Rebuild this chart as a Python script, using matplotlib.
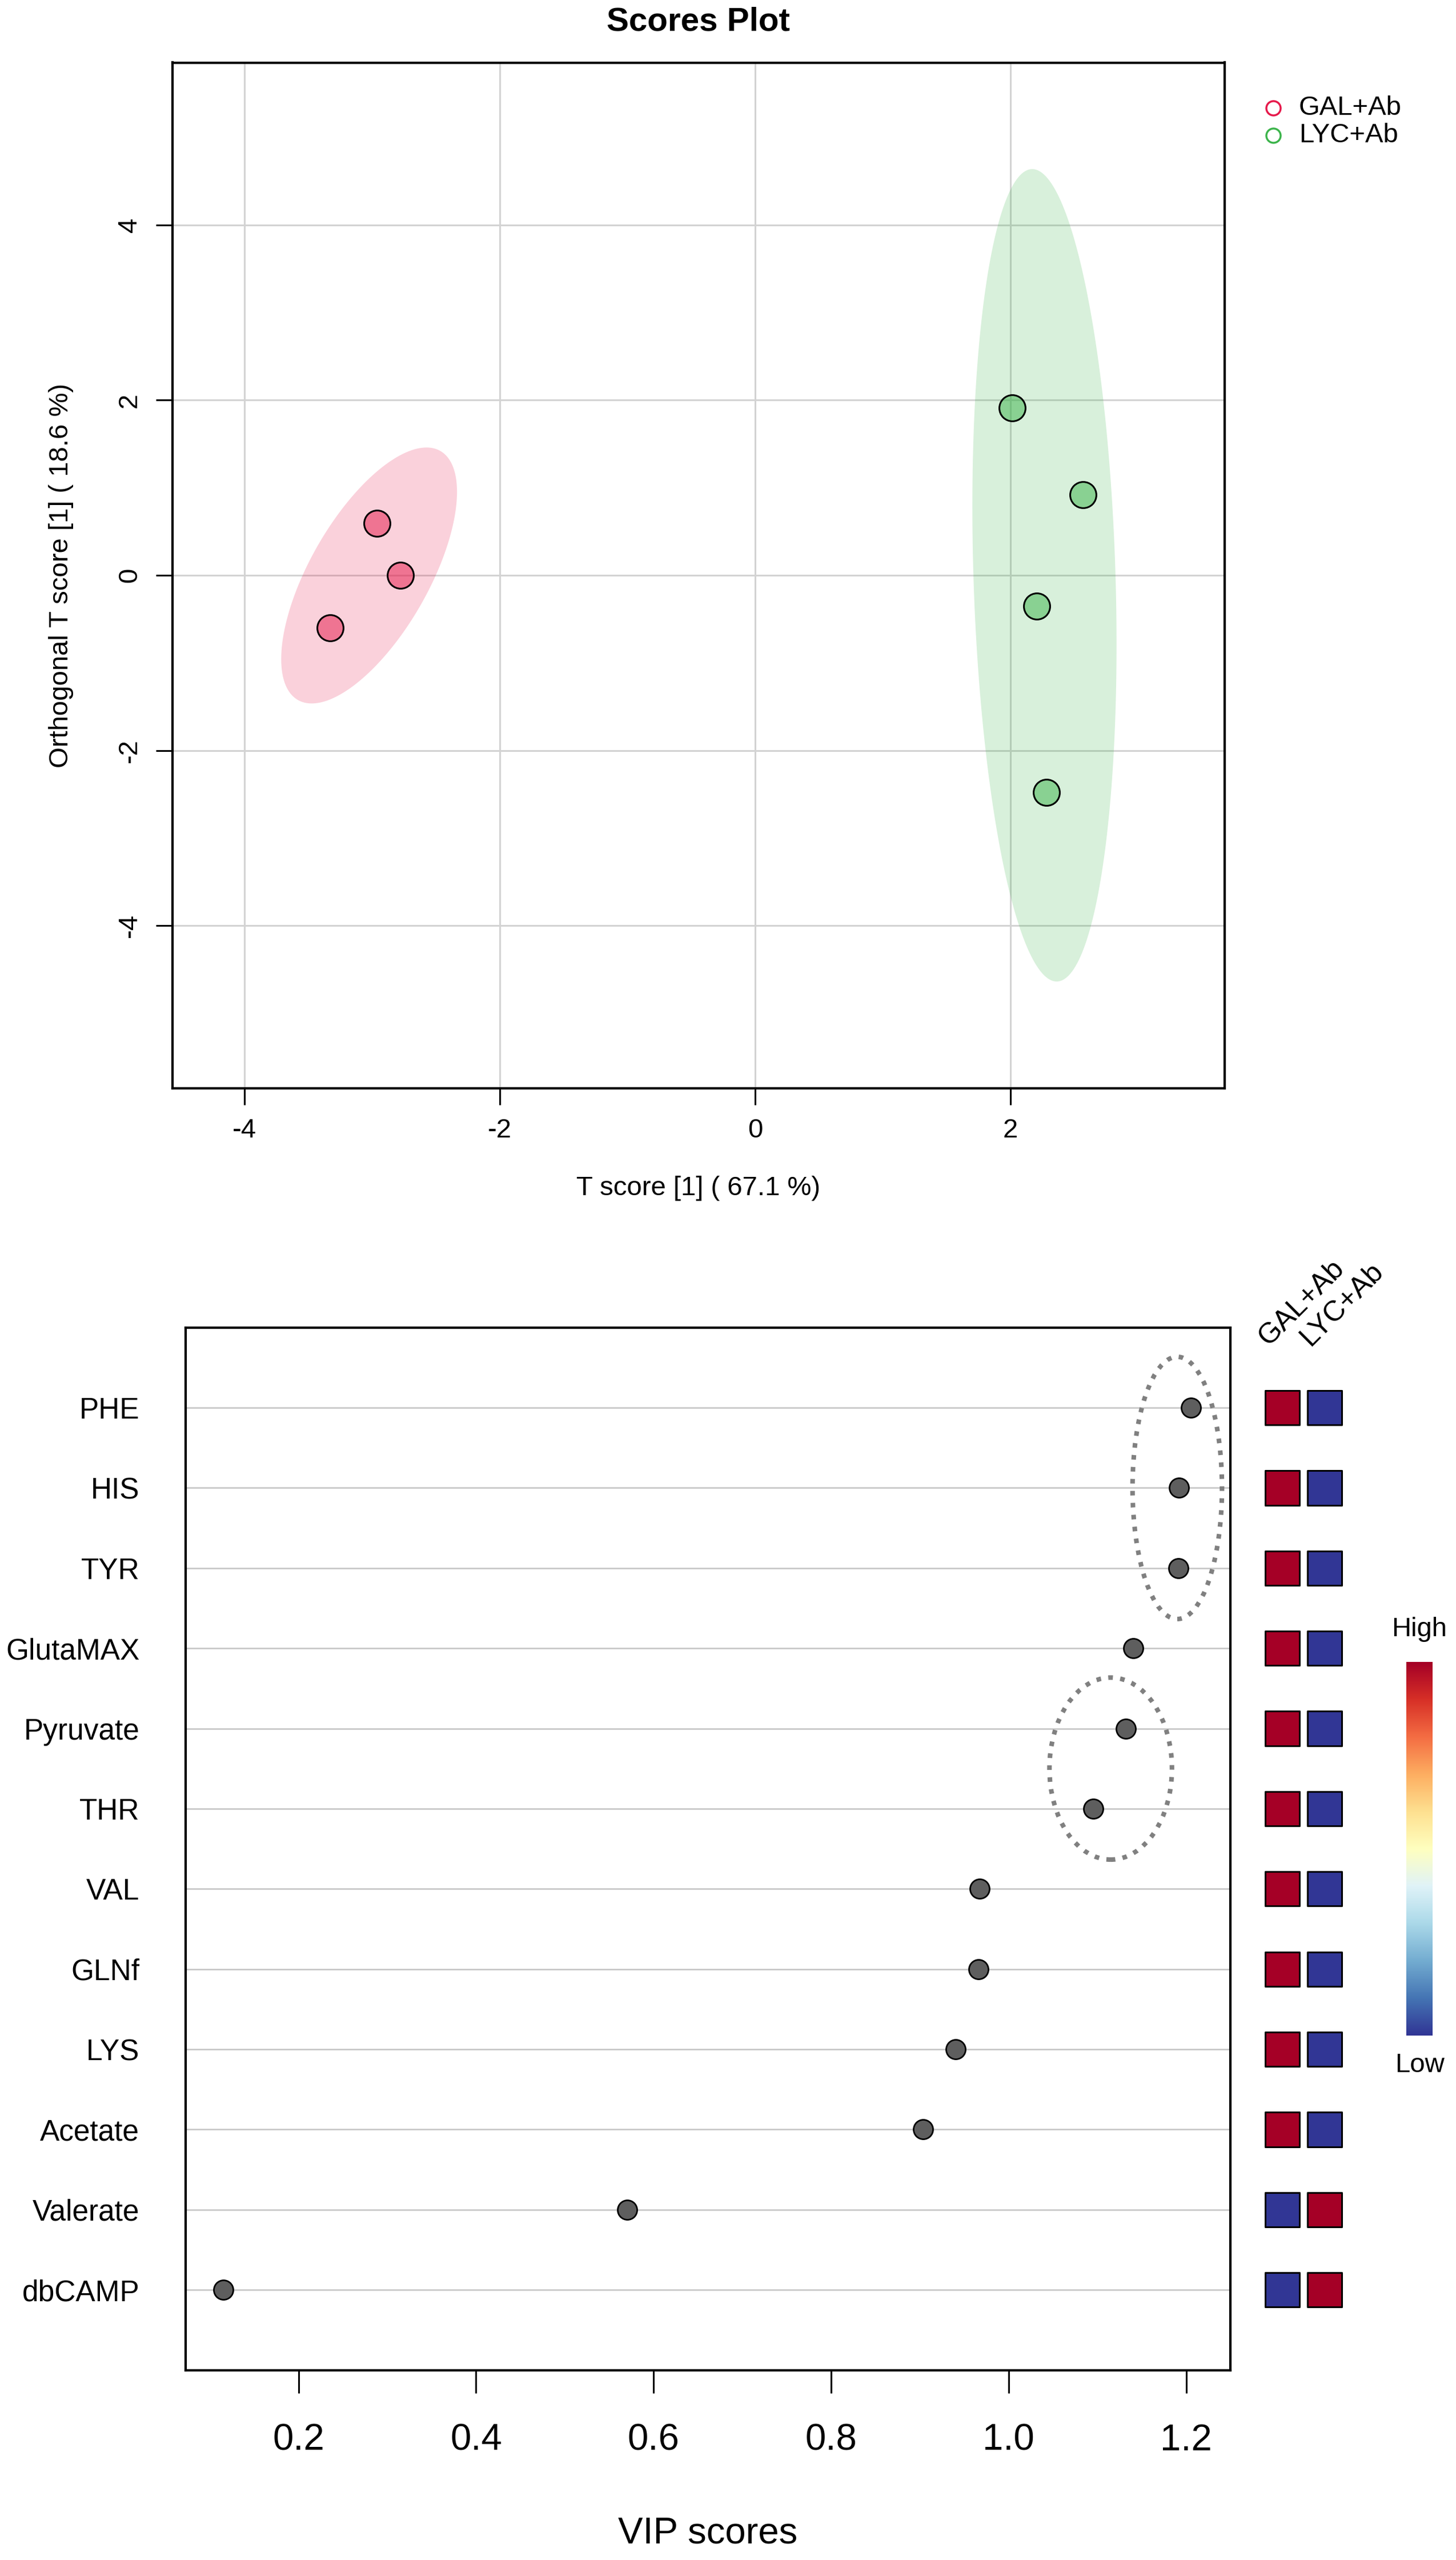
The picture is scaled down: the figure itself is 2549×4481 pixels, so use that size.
import numpy as np
import matplotlib
matplotlib.use('Agg')
import matplotlib.pyplot as plt
from matplotlib.patches import Ellipse, Polygon
from matplotlib.lines import Line2D
from matplotlib.colors import to_rgba
from matplotlib.ticker import FormatStrFormatter

plt.rcParams['font.family'] = ['Liberation Sans', 'DejaVu Sans']
plt.rcParams['axes.unicode_minus'] = False

# ---------------- data ----------------
groups = ['GAL+Ab', 'LYC+Ab']
group_colors = ['#E6194B', '#3CB44B']
gal_t = [-2.964, -2.777, -3.330]
gal_o = [0.594, 0.000, -0.600]
lyc_t = [2.012, 2.568, 2.205, 2.280]
lyc_o = [1.913, 0.917, -0.350, -2.480]
top_xticks = [-4, -2, 0, 2]
top_yticks = [-4, -2, 0, 2, 4]

metabolites = ['PHE', 'HIS', 'TYR', 'GlutaMAX', 'Pyruvate', 'THR', 'VAL',
               'GLNf', 'LYS', 'Acetate', 'Valerate', 'dbCAMP']
vip = [1.2055, 1.1917, 1.1910, 1.1407, 1.1318, 1.0954, 0.9675,
       0.9660, 0.9400, 0.9036, 0.5700, 0.1150]
gal_level = [1, 1, 1, 1, 1, 1, 1, 1, 1, 1, 0, 0]
lyc_level = [0, 0, 0, 0, 0, 0, 0, 0, 0, 0, 1, 1]
vip_xticks = [0.2, 0.4, 0.6, 0.8, 1.0, 1.2]
# dotted highlight rings (annotation): members, centre on VIP axis, half-width
highlight_groups = [['PHE', 'HIS', 'TYR'], ['Pyruvate', 'THR']]
highlight_center = [1.190, 1.115]
highlight_halfwidth = [0.0504, 0.069]

# ---------------- layout helpers ----------------
W, H = 2549, 4481
DPI = 100
fig = plt.figure(figsize=(W / DPI, H / DPI), dpi=DPI)


def fx(px):
    return px / W


def fy(py):
    return 1 - py / H


def rect(l, t, r, b):
    return [l / W, 1 - b / H, (r - l) / W, (b - t) / H]


def conf_ellipse(x, y, level=0.95, n=240):
    x = np.asarray(x, float)
    y = np.asarray(y, float)
    cov = np.cov(x, y)
    sx, sy = np.sqrt(cov[0, 0]), np.sqrt(cov[1, 1])
    r = cov[0, 1] / (sx * sy)
    d = np.arccos(r)
    t = np.sqrt(-2 * np.log(1 - level))
    a = np.linspace(0, 2 * np.pi, n)
    return np.column_stack([x.mean() + t * sx * np.cos(a + d / 2),
                            y.mean() + t * sy * np.cos(a - d / 2)])


# ================= Scores plot =================
ax1 = fig.add_axes(rect(301.7, 109.5, 2143.6, 1904.5))
ax1.set_xlim(-4.565, 3.676)
ax1.set_ylim(-5.855, 5.855)
ax1.set_xticks(top_xticks)
ax1.set_yticks(top_yticks)
ax1.grid(True, color='#D3D3D3', lw=2.2)
ax1.set_axisbelow(True)

for (tx, oy), col in zip([(gal_t, gal_o), (lyc_t, lyc_o)], group_colors):
    pts = conf_ellipse(tx, oy)
    ax1.add_patch(Polygon(pts, closed=True, facecolor=to_rgba(col, 0.2),
                          edgecolor='none', zorder=1))
    ax1.scatter(tx, oy, s=1089, facecolors=[to_rgba(col, 0.5)],
                edgecolors='black', linewidths=2.2, zorder=3)

for sp in ax1.spines.values():
    sp.set_linewidth(3)
ax1.tick_params(axis='both', direction='out', length=21, width=2.2,
                labelsize=34, pad=17)
for lab in ax1.get_yticklabels():
    lab.set_rotation(90)
    lab.set_va('center')

fig.text(fx(1222.6), fy(38.6), 'Scores Plot', ha='center', va='center',
         fontsize=42, fontweight='bold')
fig.text(fx(1222.6), fy(2080), 'T score [1] ( 67.1 %)', ha='center',
         va='center', fontsize=34)
fig.text(fx(107), fy(1007), 'Orthogonal T score [1] ( 18.6 %)', ha='center',
         va='center', rotation=90, fontsize=34)

for i, (g, col) in enumerate(zip(groups, group_colors)):
    yy = 188.7 + i * 48.1
    fig.add_artist(Line2D([fx(2229)], [fy(yy)], marker='o', markersize=18,
                          markerfacecolor='none', markeredgecolor=col,
                          markeredgewidth=2.5, linestyle='none',
                          transform=fig.transFigure))
    fig.text(fx(2274), fy(yy), g, ha='left', va='center', fontsize=34)

# ================= VIP plot =================
ax2 = fig.add_axes(rect(324.8, 2323.7, 2153.5, 4148.5))
n = len(metabolites)
rows = np.arange(n, 0, -1)
row_of = dict(zip(metabolites, rows))
ax2.set_ylim(0, n + 1)
ax2.set_xlim(0.0727, 1.2495)
ax2.set_yticks(rows)
ax2.set_yticklabels(metabolites)
ax2.set_xticks(vip_xticks)
ax2.xaxis.set_major_formatter(FormatStrFormatter('%.1f'))
ax2.yaxis.grid(True, color='#C4C4C4', lw=1.8)
ax2.set_axisbelow(True)
ax2.tick_params(axis='y', length=0, pad=58, labelsize=37)
ax2.tick_params(axis='x', direction='out', length=29, width=2.2, pad=38,
                labelsize=47)
for sp in ax2.spines.values():
    sp.set_linewidth(3)

ax2.scatter(vip, rows, s=600, facecolors='#5E5E5E', edgecolors='black',
            linewidths=2.0, zorder=3)

for grp, cx, hw in zip(highlight_groups, highlight_center, highlight_halfwidth):
    gr = [row_of[m] for m in grp]
    cy = np.mean(gr)
    hh = (max(gr) - min(gr)) / 2 + 0.635
    ax2.add_patch(Ellipse((cx, cy), 2 * hw, 2 * hh, fill=False,
                          edgecolor='#808080', lw=5.8,
                          linestyle=(0, (1, 1.6)), zorder=4))

fig.text(fx(1239), fy(4435), 'VIP scores', ha='center', va='center',
         fontsize=47)

# ---- mini heatmap ----
axh = fig.add_axes(rect(2201.2, 2323.7, 2363.2, 4148.5))
axh.set_xlim(0.4, 2.6)
axh.set_ylim(0, n + 1)
axh.axis('off')
cmap = plt.get_cmap('RdYlBu_r')
for j, lev in enumerate([gal_level, lyc_level]):
    axh.scatter(np.full(n, j + 1), rows, marker='s', s=1880,
                c=lev, cmap=cmap, vmin=0, vmax=1,
                edgecolors='black', linewidths=2.2, clip_on=False)
    axh.text(j + 1 - 0.34, n + 0.76, groups[j], rotation=45,
             rotation_mode='anchor', ha='left', va='baseline', fontsize=36,
             clip_on=False)

# ---- colour key ----
axc = fig.add_axes(rect(2462.3, 2909, 2508.3, 3563))
grad = np.linspace(1, 0, 256)[:, None]
axc.imshow(grad, aspect='auto', cmap=cmap, vmin=0, vmax=1)
axc.axis('off')
fig.text(fx(2485), fy(2852), 'High', ha='center', va='center', fontsize=34)
fig.text(fx(2485), fy(3615), 'Low', ha='center', va='center', fontsize=34)

fig.savefig('out.png', dpi=DPI, facecolor='white')
